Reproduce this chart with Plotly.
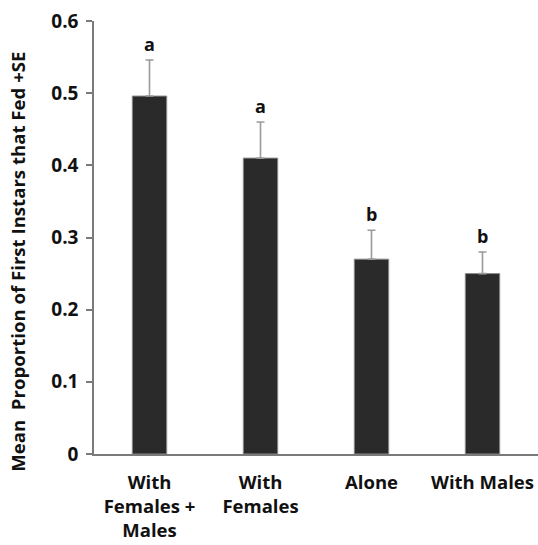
import plotly.graph_objects as go

categories = ["With<br>Females +<br>Males", "With<br>Females", "Alone", "With Males"]
means = [0.496, 0.41, 0.27, 0.25]
se = [0.05, 0.05, 0.04, 0.03]
letters = ["a", "a", "b", "b"]
y_ticks = [0, 0.1, 0.2, 0.3, 0.4, 0.5, 0.6]

FONT = "Open Sans"

fig = go.Figure()
fig.add_trace(go.Bar(
    x=categories, y=means,
    marker=dict(color="#2a2a2a", line=dict(color="#8a8a8a", width=1)),
    error_y=dict(type="data", array=se, symmetric=False, arrayminus=[0] * len(se),
                 color="#9a9a9a", thickness=1.6, width=4),
    width=0.31,
))

for cat, m, s, lab in zip(categories, means, se, letters):
    fig.add_annotation(x=cat, y=m + s, text=f"<b>{lab}</b>", showarrow=False,
                       yanchor="bottom", yshift=2,
                       font=dict(family=FONT, size=18, color="#111"))

fig.add_annotation(xref="paper", yref="paper", x=-0.172, y=0.443,
                   text="<b>Mean  Proportion of First Instars that Fed +SE</b>",
                   textangle=-90, showarrow=False, xanchor="center", yanchor="middle",
                   font=dict(family=FONT, size=18.6, color="#111"))

fig.update_layout(
    width=538, height=545,
    margin=dict(l=94, r=0, t=21, b=91),
    paper_bgcolor="white", plot_bgcolor="white",
    showlegend=False,
    font=dict(family=FONT, color="#111"),
)
fig.update_xaxes(
    showline=True, linecolor="#7a7a7a", linewidth=1.5,
    ticks="", tickfont=dict(family=FONT, size=18.5, color="#111"),
    tickprefix="<b>", ticksuffix="</b>", ticklabelstandoff=11,
    showgrid=False,
)
fig.update_yaxes(
    range=[0, 0.6], tickvals=y_ticks,
    ticktext=[f"<b>{v:g}</b>" for v in y_ticks],
    showline=True, linecolor="#7a7a7a", linewidth=1.5,
    ticks="outside", ticklen=6, tickcolor="#7a7a7a", tickwidth=1.5,
    tickfont=dict(family=FONT, size=19, color="#111"),
    ticklabelstandoff=4,
    showgrid=False, zeroline=False,
)

fig.write_html("out.html")
